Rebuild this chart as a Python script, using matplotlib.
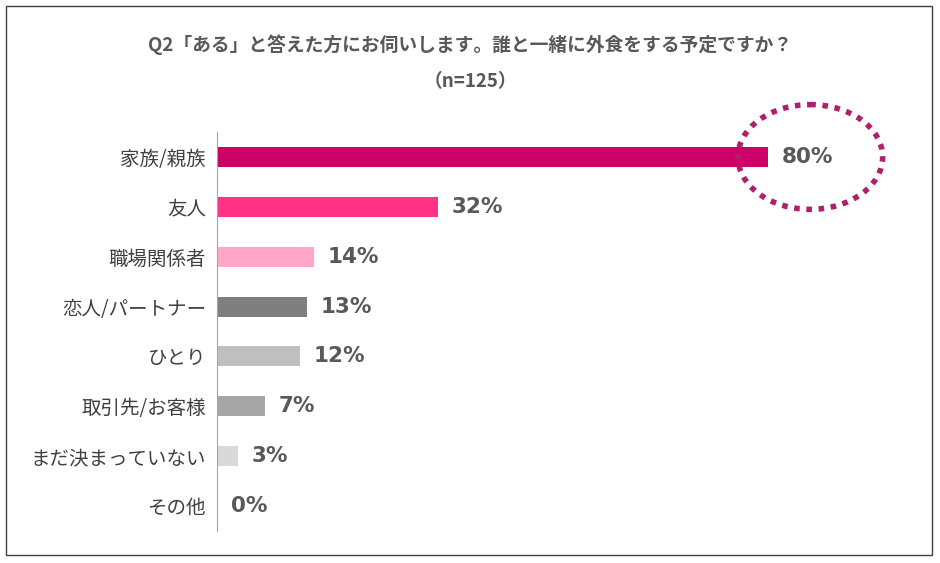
import matplotlib.pyplot as plt
from matplotlib.patches import Ellipse, Rectangle

plt.rcParams['font.family'] = ['Noto Sans CJK JP', 'DejaVu Sans']

categories = ['家族/親族', '友人', '職場関係者', '恋人/パートナー', 'ひとり',
              '取引先/お客様', 'まだ決まっていない', 'その他']
values = [80, 32, 14, 13, 12, 7, 3, 0]
colors = ['#CC0066', '#FF3385', '#FFA6C9', '#7F7F7F', '#BFBFBF',
          '#A6A6A6', '#D9D9D9', '#D9D9D9']

fig = plt.figure(figsize=(9.4, 5.63), dpi=100)
fig.patches.append(Rectangle((0.006, 0.014), 0.985, 0.975, transform=fig.transFigure,
                             fill=False, edgecolor='#404040', linewidth=1))
ax = fig.add_axes([0.2309, 0.0568, 0.7330, 0.7087])

y = list(range(len(categories)))
ax.barh(y, values, height=0.4, color=colors)
for yi, v in zip(y, values):
    ax.text(v + 2, yi, f'{v}%', va='center', ha='left', fontsize=15.5,
            fontweight='bold', color='#595959', family=['DejaVu Sans'])

ax.set_xlim(0, 100)
ax.set_ylim(len(categories) - 0.5, -0.5)
ax.set_yticks(y)
ax.set_yticklabels(categories, fontsize=14, color='#404040')
ax.tick_params(axis='y', length=0, pad=8)
ax.set_xticks([])
for s in ['top', 'right', 'bottom']:
    ax.spines[s].set_visible(False)
ax.spines['left'].set_color('#A6A6A6')

ax.add_patch(Ellipse((86.1, 0), 21, 2.1, fill=False, edgecolor='#B01E6E',
                     linewidth=4, linestyle=(0, (1, 1.2)), clip_on=False))

fig.text(0.5, 0.92, 'Q2「ある」と答えた方にお伺いします。誰と一緒に外食をする予定ですか？',
         ha='center', va='center', fontsize=13.5, fontweight='bold', color='#595959')
fig.text(0.5, 0.855, '（n=125）', ha='center', va='center', fontsize=13.5,
         fontweight='bold', color='#595959')

fig.savefig('out.png', dpi=100)
